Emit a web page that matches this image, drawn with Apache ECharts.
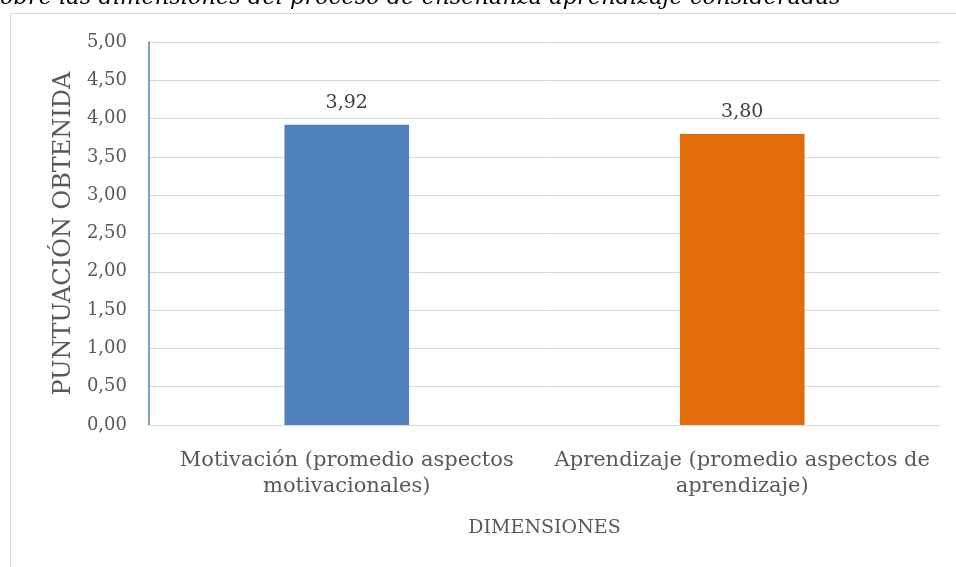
<!DOCTYPE html>
<html>
<head>
<meta charset="utf-8">
<script src="https://cdn.jsdelivr.net/npm/echarts@6/dist/echarts.min.js"></script>
<style>
  html, body { margin: 0; padding: 0; background: #fff; }
  #chart { width: 956px; height: 567px; }
</style>
</head>
<body>
<div id="chart"></div>
<script>
const categories = [
  'Motivación (promedio aspectos\nmotivacionales)',
  'Aprendizaje (promedio aspectos de\naprendizaje)'
];
const scores = [3.92, 3.80];
const barColors = ['#4f81bd', '#e36c0a'];
const titleText = 'obre las dimensiones del proceso de enseñanza aprendizaje consideradas';

const font = '"DejaVu Serif", "Liberation Serif", serif';
const grey = '#595959';

let myChart = echarts.init(document.getElementById('chart'));
myChart.setOption({
  animation: false,
  textStyle: { fontFamily: font },
  graphic: [
    {
      type: 'rect',
      shape: { x: 10.5, y: 13.5, width: 1000, height: 700 },
      style: { fill: 'none', stroke: '#d9d9d9', lineWidth: 1 }
    },
    {
      type: 'text',
      left: 0,
      top: -13,
      style: {
        text: titleText,
        font: 'italic 22.5px ' + font,
        fill: '#000'
      }
    }
  ],
  grid: { left: 149, right: 16, top: 42, bottom: 142 },
  xAxis: {
    type: 'category',
    data: categories,
    name: 'DIMENSIONES',
    nameLocation: 'middle',
    nameGap: 94,
    nameTextStyle: { color: grey, fontSize: 19, fontFamily: font },
    axisLine: { lineStyle: { color: '#d9d9d9', width: 1 } },
    axisTick: { show: false },
    axisLabel: {
      interval: 0,
      hideOverlap: false,
      color: grey,
      fontSize: 21,
      fontFamily: font,
      margin: 23,
      lineHeight: 26
    }
  },
  yAxis: {
    type: 'value',
    min: 0,
    max: 5,
    interval: 0.5,
    name: 'PUNTUACIÓN OBTENIDA',
    nameLocation: 'middle',
    nameGap: 70,
    nameRotate: 90,
    nameTextStyle: { color: grey, fontSize: 24, fontFamily: font },
    axisLine: { show: true, lineStyle: { color: '#4f81bd', width: 1.5 } },
    axisTick: { show: false },
    splitLine: { lineStyle: { color: '#d9d9d9', width: 1 } },
    axisLabel: {
      color: grey,
      fontSize: 18,
      fontFamily: font,
      margin: 22,
      formatter: v => v.toFixed(2).replace('.', ',')
    }
  },
  series: [
    {
      type: 'bar',
      data: scores.map((v, i) => ({ value: v, itemStyle: { color: barColors[i] } })),
      barWidth: '31.5%',
      label: {
        show: true,
        position: 'top',
        distance: 12,
        color: '#404040',
        fontSize: 19,
        fontFamily: font,
        formatter: p => p.value.toFixed(2).replace('.', ',')
      }
    }
  ]
});
</script>
</body>
</html>
